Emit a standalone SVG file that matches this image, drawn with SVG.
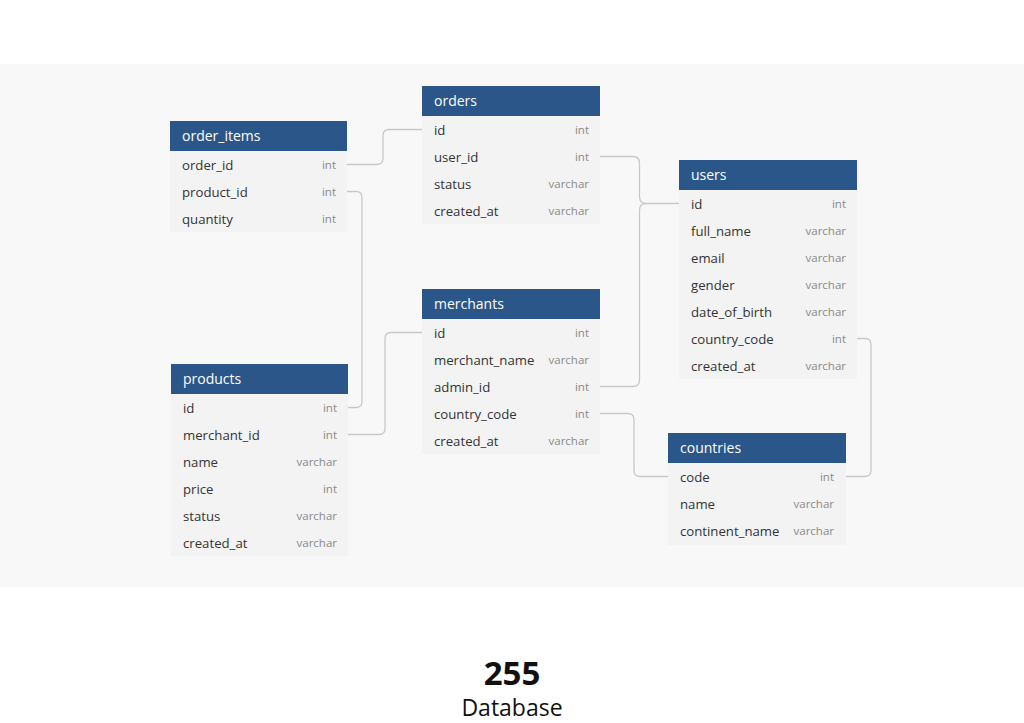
<svg xmlns="http://www.w3.org/2000/svg" width="1024" height="723" viewBox="0 0 1024 723">
<style>
.hd{fill:#2b5689}
.bd{fill:#f3f3f3}
.ht{font-family:"Open Sans","Noto Sans",sans-serif;font-size:14px;font-weight:400;fill:#ffffff}
.fn{font-family:"Open Sans","Noto Sans",sans-serif;font-size:13.2px;fill:#333333}
.ft{font-family:"Open Sans","Noto Sans",sans-serif;font-size:11.5px;fill:#8a8a8a;text-anchor:end}
.cn{fill:none;stroke:#c8c8c8;stroke-width:1.3}
.big{font-family:"Open Sans","Noto Sans",sans-serif;text-anchor:middle;fill:#111111}
</style>
<rect x="0" y="0" width="1024" height="723" fill="#ffffff"/>
<rect x="0" y="64" width="1024" height="523" fill="#f8f8f8"/>
<g id="connectors">
<path class="cn" d="M347,164.5 H377 Q383,164.5 383,158.5 V135.5 Q383,129.5 389,129.5 H422"/>
<path class="cn" d="M347,191.5 H356 Q362,191.5 362,197.5 V401.5 Q362,407.5 356,407.5 H348"/>
<path class="cn" d="M348,434.5 H379 Q385,434.5 385,428.5 V338.5 Q385,332.5 391,332.5 H422"/>
<path class="cn" d="M600,156.5 H633 Q639.5,156.5 639.5,163 V196.5 Q639.5,203.5 646,203.5 H679"/>
<path class="cn" d="M600,386.5 H633 Q639.5,386.5 639.5,380 V210.5 Q639.5,203.5 646,203.5"/>
<path class="cn" d="M600,413.5 H628 Q634,413.5 634,419.5 V470.5 Q634,476.5 640,476.5 H668"/>
<path class="cn" d="M857,338.5 H865 Q871,338.5 871,344.5 V470.5 Q871,476.5 865,476.5 H846"/>
</g>
<g id="order_items">
<rect class="bd" x="170" y="151" width="177" height="81"/>
<rect class="hd" x="170" y="121" width="177" height="30"/>
<text class="ht" x="182" y="141">order_items</text>
<text class="fn" x="182" y="169.5">order_id</text><text class="ft" x="336" y="169">int</text>
<text class="fn" x="182" y="196.5">product_id</text><text class="ft" x="336" y="196">int</text>
<text class="fn" x="182" y="223.5">quantity</text><text class="ft" x="336" y="223">int</text>
</g>
<g id="orders">
<rect class="bd" x="422" y="116" width="178" height="108"/>
<rect class="hd" x="422" y="86" width="178" height="30"/>
<text class="ht" x="434" y="106">orders</text>
<text class="fn" x="434" y="134.5">id</text><text class="ft" x="589" y="134">int</text>
<text class="fn" x="434" y="161.5">user_id</text><text class="ft" x="589" y="161">int</text>
<text class="fn" x="434" y="188.5">status</text><text class="ft" x="589" y="188">varchar</text>
<text class="fn" x="434" y="215.5">created_at</text><text class="ft" x="589" y="215">varchar</text>
</g>
<g id="users">
<rect class="bd" x="679" y="190" width="178" height="189"/>
<rect class="hd" x="679" y="160" width="178" height="30"/>
<text class="ht" x="691" y="180">users</text>
<text class="fn" x="691" y="208.5">id</text><text class="ft" x="846" y="208">int</text>
<text class="fn" x="691" y="235.5">full_name</text><text class="ft" x="846" y="235">varchar</text>
<text class="fn" x="691" y="262.5">email</text><text class="ft" x="846" y="262">varchar</text>
<text class="fn" x="691" y="289.5">gender</text><text class="ft" x="846" y="289">varchar</text>
<text class="fn" x="691" y="316.5">date_of_birth</text><text class="ft" x="846" y="316">varchar</text>
<text class="fn" x="691" y="343.5">country_code</text><text class="ft" x="846" y="343">int</text>
<text class="fn" x="691" y="370.5">created_at</text><text class="ft" x="846" y="370">varchar</text>
</g>
<g id="merchants">
<rect class="bd" x="422" y="319" width="178" height="135"/>
<rect class="hd" x="422" y="289" width="178" height="30"/>
<text class="ht" x="434" y="309">merchants</text>
<text class="fn" x="434" y="337.5">id</text><text class="ft" x="589" y="337">int</text>
<text class="fn" x="434" y="364.5">merchant_name</text><text class="ft" x="589" y="364">varchar</text>
<text class="fn" x="434" y="391.5">admin_id</text><text class="ft" x="589" y="391">int</text>
<text class="fn" x="434" y="418.5">country_code</text><text class="ft" x="589" y="418">int</text>
<text class="fn" x="434" y="445.5">created_at</text><text class="ft" x="589" y="445">varchar</text>
</g>
<g id="products">
<rect class="bd" x="171" y="394" width="177" height="162"/>
<rect class="hd" x="171" y="364" width="177" height="30"/>
<text class="ht" x="183" y="384">products</text>
<text class="fn" x="183" y="412.5">id</text><text class="ft" x="337" y="412">int</text>
<text class="fn" x="183" y="439.5">merchant_id</text><text class="ft" x="337" y="439">int</text>
<text class="fn" x="183" y="466.5">name</text><text class="ft" x="337" y="466">varchar</text>
<text class="fn" x="183" y="493.5">price</text><text class="ft" x="337" y="493">int</text>
<text class="fn" x="183" y="520.5">status</text><text class="ft" x="337" y="520">varchar</text>
<text class="fn" x="183" y="547.5">created_at</text><text class="ft" x="337" y="547">varchar</text>
</g>
<g id="countries">
<rect class="bd" x="668" y="463" width="178" height="82"/>
<rect class="hd" x="668" y="433" width="178" height="30"/>
<text class="ht" x="680" y="453">countries</text>
<text class="fn" x="680" y="481.5">code</text><text class="ft" x="834" y="481">int</text>
<text class="fn" x="680" y="508.5">name</text><text class="ft" x="834" y="508">varchar</text>
<text class="fn" x="680" y="535.5">continent_name</text><text class="ft" x="834" y="535">varchar</text>
</g>
<g id="caption">
<text class="big" x="512" y="685" font-size="33" font-weight="700">255</text>
<text class="big" x="512" y="716" font-size="23">Database</text>
</g>
</svg>
